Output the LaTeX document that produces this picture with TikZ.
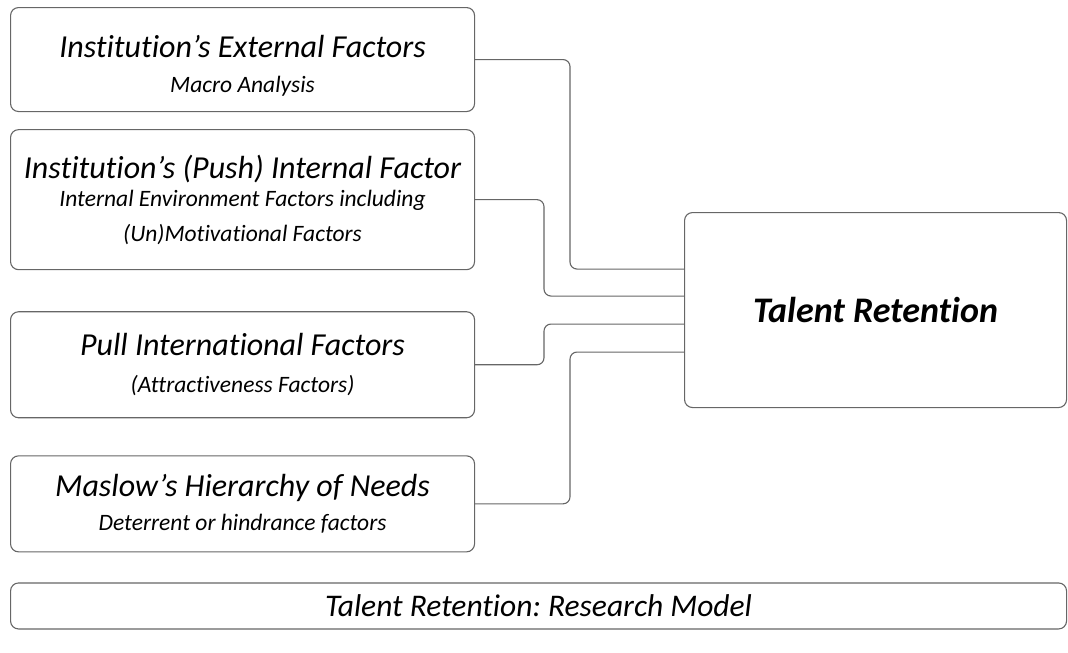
\documentclass[tikz,border=0pt]{standalone}
\usepackage{fontspec}
\setmainfont[Ligatures=NoCommon]{Carlito}
\usetikzlibrary{positioning,calc}
\frenchspacing

\begin{document}
\begin{tikzpicture}[
  x=1pt, y=-1pt,
  box/.style={draw=black!60, line width=1.1pt, rounded corners=8pt, align=center, anchor=north west, inner sep=0pt,
    font=\fontsize{23.5}{38}\selectfont\itshape},
  link/.style={draw=black!60, line width=1.1pt, rounded corners=7pt}
]
\useasboundingbox (0,0) rectangle (1068,653);

% ----- FACTOR BOXES -----
\node[box, minimum width=464pt, minimum height=104pt] (ext) at (10,7)
  {\rule{0pt}{34pt}{\fontsize{32}{38}\selectfont Institution's External Factors}\\[-3pt]
   Macro Analysis};
\node[box, below=17pt of ext.south west, anchor=north west, minimum width=464pt, minimum height=140pt] (push)
  {{\fontsize{32}{38}\selectfont Institution's (Push) Internal Factor}\\[-10pt]
   Internal Environment Factors including\\[-3pt]
   (Un)Motivational Factors};
\node[box, below=41pt of push.south west, anchor=north west, minimum width=464pt, minimum height=106pt] (pull)
  {{\fontsize{32}{38}\selectfont Pull International Factors}\\[-1pt]
   (Attractiveness Factors)};
\node[box, below=37pt of pull.south west, anchor=north west, minimum width=464pt, minimum height=96pt] (maslow)
  {{\fontsize{32}{38}\selectfont Maslow's Hierarchy of Needs}\\[-4pt]
   Deterrent or hindrance factors};

% ----- TARGET + CAPTION -----
\node[box, minimum width=382pt, minimum height=195pt, font=\fontsize{36}{42}\selectfont\bfseries\itshape] (talent) at (684,212) {Talent Retention};
\node[box, below=30pt of maslow.south west, anchor=north west, minimum width=1056pt, minimum height=46pt, font=\fontsize{31.5}{36}\selectfont\itshape] (caption) {Talent Retention: Research Model};

% ----- INLETS ON TALENT BOX -----
\coordinate (in1) at ($(talent.west)+(0,-41)$);
\coordinate (in2) at ($(talent.west)+(0,-14)$);
\coordinate (in3) at ($(talent.west)+(0,14)$);
\coordinate (in4) at ($(talent.west)+(0,42)$);

% ----- CONNECTORS -----
\draw[link] (ext.east) -| ($(in1)+(-114,0)$) -- (in1);
\draw[link] (push.east) -| ($(in2)+(-140,0)$) -- (in2);
\draw[link] (pull.east) -| ($(in3)+(-140,0)$) -- (in3);
\draw[link] (maslow.east) -| ($(in4)+(-114,0)$) -- (in4);

\end{tikzpicture}
\end{document}
